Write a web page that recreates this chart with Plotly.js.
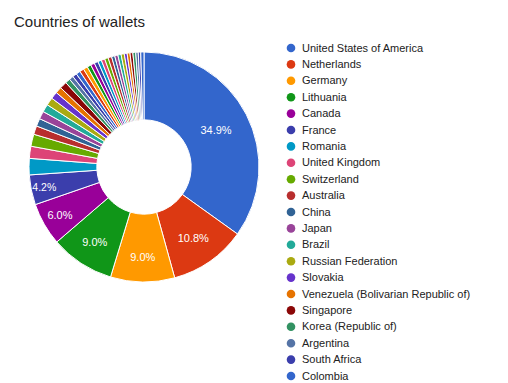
<!DOCTYPE html>
<html>
<head>
<meta charset="utf-8">
<script src="https://cdn.plot.ly/plotly-3.0.1.min.js"></script>
<style>html,body{margin:0;padding:0;background:#fff;}#chart{width:508px;height:383px;}</style>
</head>
<body>
<div id="chart"></div>
<script>
const chartTitle = "Countries of wallets";
const countries = [
  "United States of America","Netherlands","Germany","Lithuania","Canada","France",
  "Romania","United Kingdom","Switzerland","Australia","China","Japan","Brazil",
  "Russian Federation","Slovakia","Venezuela (Bolivarian Republic of)","Singapore",
  "Korea (Republic of)","Argentina","South Africa","Colombia",
  "Spain","Italy","Poland","India","Sweden","Czech Republic","Ukraine","Austria",
  "Belgium","Hungary","Israel","Norway","Finland","Denmark","Portugal","Mexico",
  "Ireland","Turkey","Greece","New Zealand"
];
const shares = [
  34.9,10.8,9.0,9.0,6.0,4.2,
  2.3,1.7,1.7,1.2,1.1,1.1,1.1,
  1.1,1.0,0.9,1.0,
  0.7,0.6,0.6,0.6,
  0.6,0.6,0.55,0.55,0.55,0.5,0.5,0.5,
  0.5,0.45,0.45,0.45,0.45,0.4,0.4,0.4,
  0.4,0.35,0.35,0.45
];
const palette = ["#3366cc","#dc3912","#ff9900","#109618","#990099","#3b3eac","#0099c6",
  "#dd4477","#66aa00","#b82e2e","#316395","#994499","#22aa99","#aaaa11","#6633cc",
  "#e67300","#8b0707","#329262","#5574a6","#3b3eac"];
const legendShown = 21;

const W = 508, H = 383;
const sliceColors = countries.map((c, i) => palette[i % palette.length]);
const labelTemplates = shares.map(v => v >= 4 ? "%{percent:.1%}" : "");

const pie = {
  type: "pie",
  labels: countries,
  values: shares,
  sort: false,
  direction: "clockwise",
  rotation: 0,
  hole: 0.41,
  marker: {colors: sliceColors, line: {color: "#ffffff", width: 1}},
  texttemplate: labelTemplates,
  textposition: "inside",
  insidetextorientation: "horizontal",
  insidetextfont: {color: "#ffffff", size: 11, family: "Liberation Sans, Arial, sans-serif"},
  showlegend: false,
  domain: {x: [29 / W, 259 / W], y: [1 - 282 / H, 1 - 52 / H]},
  hovertemplate: "%{label}<br>%{percent:.1%}<extra></extra>"
};

const annotations = [];
const shapes = [];
for (let i = 0; i < legendShown; i++) {
  const yc = 47.5 + 16.4 * i;
  annotations.push({
    text: countries[i], xref: "paper", yref: "paper",
    x: 300 / W, y: 1 - yc / H, xanchor: "left", yanchor: "middle",
    showarrow: false,
    font: {family: "Liberation Sans, Arial, sans-serif", size: 11, color: "#222222"}
  });
  const r = 4.3, cx = 291;
  shapes.push({
    type: "circle", xref: "paper", yref: "paper",
    x0: (cx - r) / W, x1: (cx + r) / W,
    y0: 1 - (yc + 0.5 + r) / H, y1: 1 - (yc + 0.5 - r) / H,
    fillcolor: sliceColors[i], line: {width: 0}
  });
}

const layout = {
  width: W, height: H,
  margin: {l: 0, r: 0, t: 0, b: 0},
  paper_bgcolor: "#ffffff",
  font: {family: "Liberation Sans, Arial, sans-serif", color: "#222222"},
  title: {
    text: chartTitle, xref: "paper", yref: "paper",
    x: 14 / W, xanchor: "left", y: 1 - 22 / H, yanchor: "middle",
    font: {size: 15, color: "#222222", family: "Liberation Sans, Arial, sans-serif"}
  },
  annotations: annotations,
  shapes: shapes,
  showlegend: false
};

Plotly.newPlot("chart", [pie], layout, {displayModeBar: false, staticPlot: true});
</script>
</body>
</html>
